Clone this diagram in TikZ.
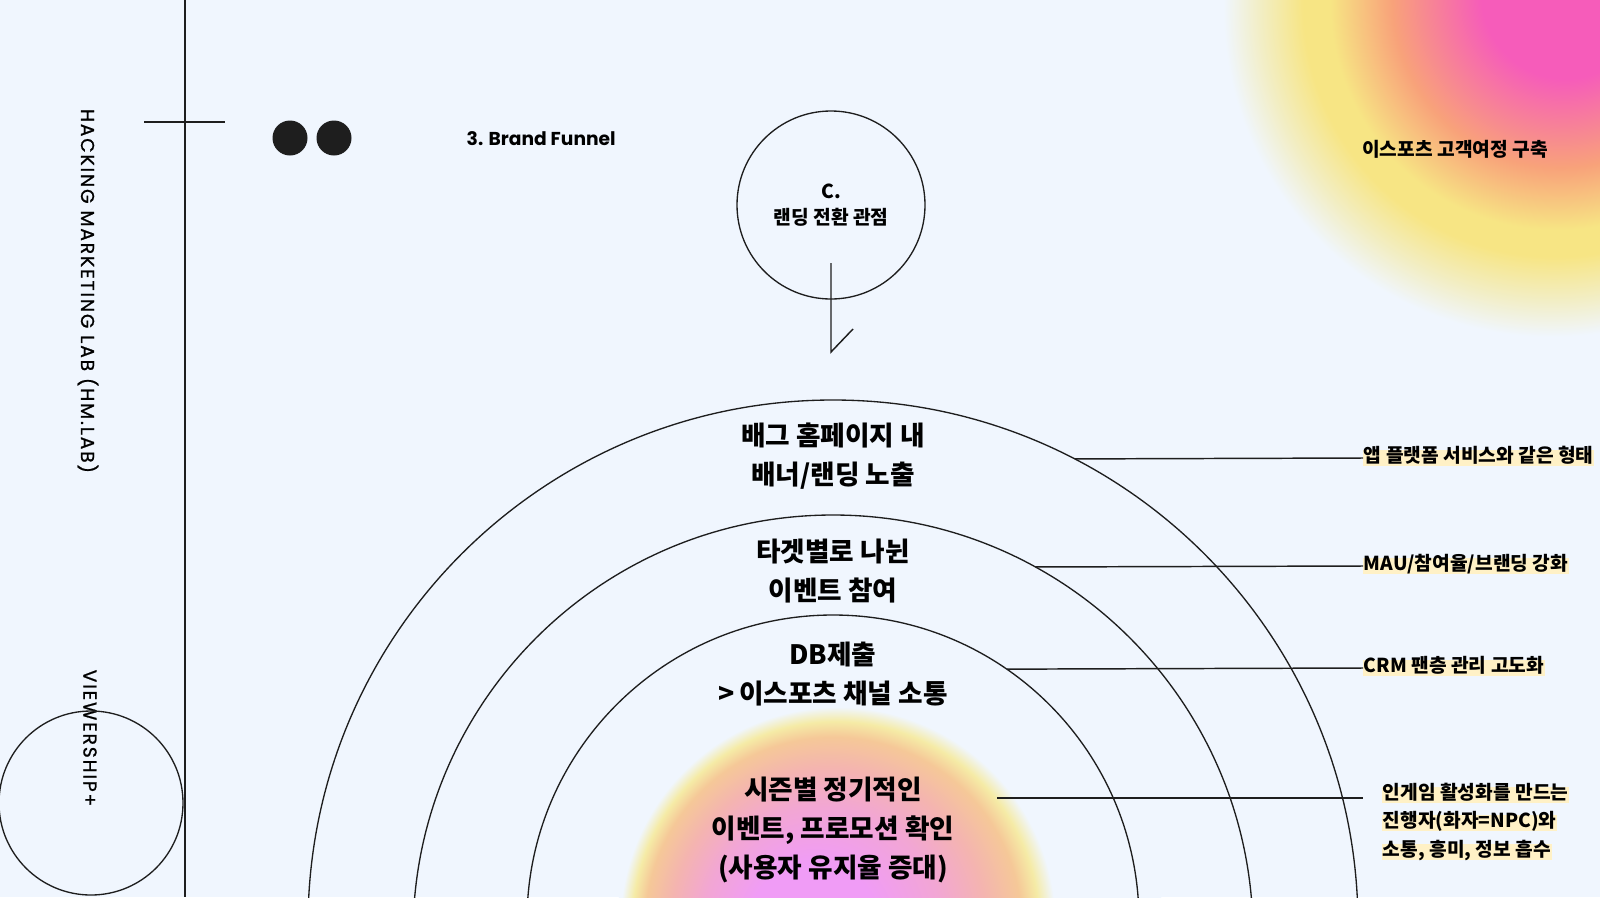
\documentclass[tikz,border=0pt]{standalone}
\usepackage{xcolor}
\usepackage{fontspec}
\setmainfont{Noto Sans CJK KR}
\newfontfamily\popfont{Poppins}
\newfontfamily\popwide{Poppins}[LetterSpace=10, FakeBold=1]
\usepackage{tikz}
\usetikzlibrary{positioning,calc}

\definecolor{pagebg}{HTML}{F0F6FE}
\definecolor{inkline}{HTML}{1E1E1E}
\definecolor{hilite}{HTML}{FFF1C6}
\definecolor{sunpink}{HTML}{F65CBA}
\definecolor{sunorange}{HTML}{F8A27A}
\definecolor{sunyellow}{HTML}{F7E584}
\definecolor{sunpale}{HTML}{F2EEC6}
\definecolor{corepink}{HTML}{F09CF6}
\definecolor{corerose}{HTML}{F2A6D4}
\definecolor{coresalmon}{HTML}{F4B4B0}
\definecolor{corepeach}{HTML}{F5C898}
\definecolor{coreyellow}{HTML}{F5EBA6}

\pgfdeclareradialshading{sunblob}{\pgfpoint{3bp}{3bp}}{color(0bp)=(sunpink); color(5bp)=(sunpink); color(10bp)=(sunorange); color(13.5bp)=(sunyellow); color(15bp)=(sunyellow); color(17.5bp)=(sunpale); color(19.5bp)=(pagebg); color(50bp)=(pagebg)}
\pgfdeclareradialshading{coreblob}{\pgfpoint{-8bp}{-1bp}}{color(0bp)=(corepink); color(6bp)=(corepink); color(11bp)=(corerose); color(14.5bp)=(coresalmon); color(17.3bp)=(corepeach); color(18.7bp)=(coreyellow); color(20bp)=(pagebg); color(50bp)=(pagebg)}

\tikzset{
  rule/.style={draw=inkline, line width=1.1pt},
  ring/.style={draw=inkline, line width=1pt},
  tag/.style={fill=hilite, anchor=west, inner xsep=0.5pt, inner ysep=0.5pt, text height=0.82em, text depth=0.22em, font=\fontsize{14.4}{18}\selectfont\bfseries},
  stage/.style={align=center, font=\fontsize{20}{29}\selectfont\bfseries},
  sidetext/.style={rotate=-90, font=\popwide\fontsize{14}{16}\selectfont},
}

\begin{document}
\begin{tikzpicture}[x=0.75pt,y=-0.75pt]
	\useasboundingbox (0,0) rectangle (1600,897);
	\clip (0,0) rectangle (1600,897);
	\fill[pagebg] (0,0) rectangle (1600,897); % background

	% colour blobs
	\shade[shading=sunblob] (1520,40) circle (420); % top right
	\shade[shading=coreblob] (890,918) circle (272); % funnel core

	% left margin
	\draw[rule] (185,0) -- (185,897); % vertical rule
	\draw[rule] (144,122) -- (225,122); % tick
	\node[sidetext] (hmlab) at (88,291) {HACKING MARKETING LAB (HM.LAB)};
	\node[sidetext] (viewer) at (90,738) {VIEWERSHIP+};
	\draw[ring] (91,803) circle (92); % corner circle

	% header
	\fill[inkline] (290,138) circle (17.5); % dot
	\fill[inkline] (334,138) circle (17.5); % dot
	\node[anchor=west, font=\popfont\bfseries\fontsize{14}{16}\selectfont] (title) at (462,139) {3. Brand Funnel};
	\node[font=\fontsize{14.4}{18}\selectfont\bfseries] (journey) at (1455,149) {이스포츠 고객여정 구축};

	% landing circle with hook
	\node[ring, circle, minimum size=141pt, align=center, font=\fontsize{14.4}{20}\selectfont\bfseries] (landing) at (831,205) {C.\\랜딩 전환 관점};
	\coordinate (drop) at (831,263);
	\coordinate (dropend) at (831,352);
	\coordinate (hook) at (853,329);
	\draw[rule] (drop) -- (dropend) -- (hook);

	% funnel rings
	\coordinate (o1) at (833,925);
	\coordinate (o2) at (833,935);
	\coordinate (o3) at (833,921);
	\draw[ring] (o1) circle (525); % outer
	\draw[ring] (o2) circle (420); % middle
	\draw[ring] (o3) circle (306); % inner
	\path (o1) ++(-62.6:525) coordinate (j1);
	\path (o2) ++(-61.2:420) coordinate (j2);
	\path (o3) ++(-55.4:306) coordinate (j3);

	\node[stage] (banner) at (833,456) {배그 홈페이지 내\\배너/랜딩 노출};
	\node[stage] (event) at (833,571) {타겟별로 나뉜\\이벤트 참여};
	\node[stage] (dbsend) at (833,674) {DB제출\\>\,이스포츠 채널 소통};
	\node[stage] (season) at (833,830) {시즌별 정기적인\\이벤트, 프로모션 확인\\(사용자 유지율 증대)};

	% side notes
	\node[tag] (app) at (1363,458) {앱 플랫폼 서비스와 같은 형태};
	\node[tag] (mau) at (1363,566) {MAU/참여율/브랜딩 강화};
	\node[tag] (crm) at (1363,668) {CRM 팬층 관리 고도화};
	\node[tag] (npcA) at (1382,795) {인게임 활성화를 만드는};
	\node[tag] (npcB) at (1382,823) {진행자(화자=NPC)와};
	\node[tag] (npcC) at (1382,852) {소통, 흥미, 정보 흡수};

	\draw[rule] (j1) -- (app.west);
	\draw[rule] (j2) -- (mau.west);
	\draw[rule] (j3) -- (crm.west);
	\coordinate (npcstart) at (997,798);
	\coordinate (npcend) at (1363,798);
	\draw[rule] (npcstart) -- (npcend);
\end{tikzpicture}
\end{document}
